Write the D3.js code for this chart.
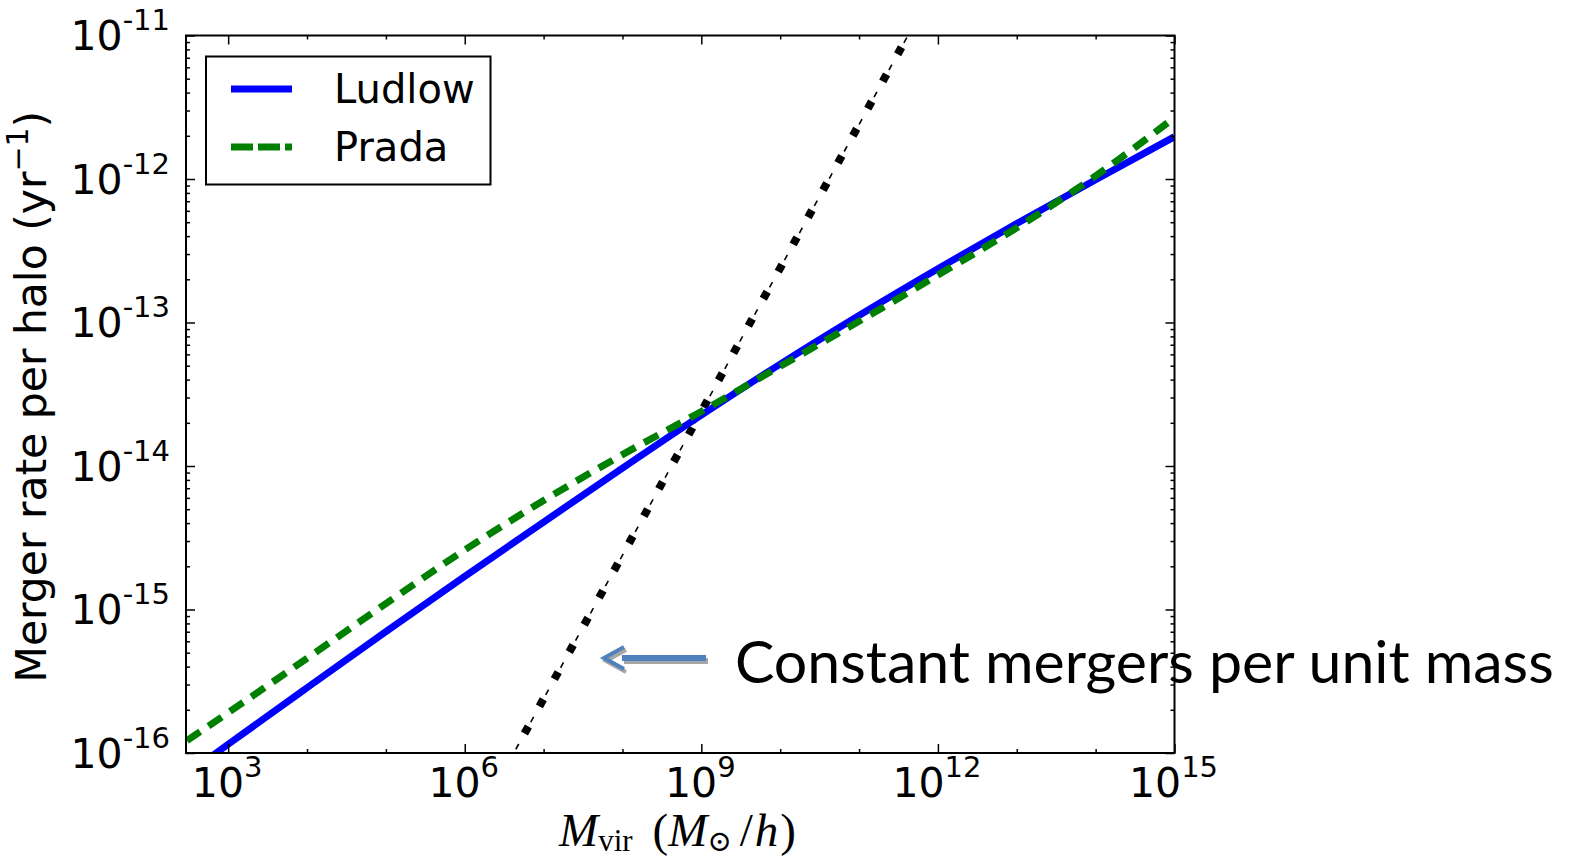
<!DOCTYPE html>
<html>
<head>
<meta charset="utf-8">
<script src="https://cdn.jsdelivr.net/npm/d3@7/dist/d3.min.js"></script>
<style>
  html, body { margin: 0; padding: 0; background: #fff; }
  svg { display: block; }
</style>
</head>
<body>
<div id="chart"></div>
<script>
// tick labels (exponents of ten)
const massLabelExponents = [3, 6, 9, 12, 15]
const rateLabelExponents = [-11, -12, -13, -14, -15, -16]

// Ludlow concentration model
const ludlowMass = [3e2, 1e3, 1e4, 1e5, 1e6, 1e7, 1e8, 1e9, 1e10, 1e11, 1e12, 1e13, 1e14, 1e15]
const ludlowRate = [7.1e-17, 1.15e-16, 2.85e-16, 7.0e-16, 1.7e-15, 4.07e-15, 9.66e-15, 2.26e-14, 5.13e-14, 1.12e-13, 2.37e-13, 4.9e-13, 9.89e-13, 1.97e-12]

// Prada concentration model
const pradaMass = [3e2, 1e3, 1e4, 1e5, 1e6, 1e7, 1e8, 1e9, 1e10, 1e11, 1e12, 1e13, 1e14, 1e15]
const pradaRate = [1.22e-16, 1.91e-16, 4.57e-16, 1.1e-15, 2.6e-15, 5.75e-15, 1.2e-14, 2.4e-14, 4.95e-14, 1.02e-13, 2.14e-13, 4.57e-13, 1.05e-12, 2.68e-12]

// constant mergers per unit mass
const constantMass = [3.6e6, 5.0e11]
const constantRate = [8.6e-17, 1.2e-11]

const legendLabels = ["Ludlow", "Prada"]
const annotationText = "Constant mergers per unit mass"

const width = 1575
const height = 859
const margin = {left: 186, right: 1174.5, top: 35.5, bottom: 753}

const svg = d3.select("#chart").append("svg")
  .attr("width", width)
  .attr("height", height)
  .attr("viewBox", `0 0 ${width} ${height}`)

const x = d3.scaleLog().domain([292, 1e15]).range([margin.left, margin.right])
const y = d3.scaleLog().domain([1e-16, 1e-11]).range([margin.bottom, margin.top])

svg.append("defs").append("clipPath").attr("id", "plot-clip")
  .append("rect")
  .attr("x", margin.left).attr("y", margin.top)
  .attr("width", margin.right - margin.left)
  .attr("height", margin.bottom - margin.top)

const line = d3.line()
  .x(d => x(d[0]))
  .y(d => y(d[1]))
  .curve(d3.curveMonotoneX)

const plot = svg.append("g").attr("clip-path", "url(#plot-clip)")

// black reference line: thin dashes with square dots between them
const constantPoints = d3.zip(constantMass, constantRate)
const constantPath = plot.append("path")
  .datum(constantPoints)
  .attr("fill", "none")
  .attr("stroke", "#000")
  .attr("stroke-width", 1.6)
  .attr("stroke-dasharray", "6,25")
  .attr("stroke-dashoffset", -15)
  .attr("d", line)
const pathNode = constantPath.node()
const pathLength = pathNode.getTotalLength()
const angle = Math.atan2(
  y(constantRate[1]) - y(constantRate[0]),
  x(constantMass[1]) - x(constantMass[0])
) * 180 / Math.PI
for (let s = 6; s < pathLength; s += 31) {
  const p = pathNode.getPointAtLength(s)
  plot.append("rect")
    .attr("x", -4).attr("y", -4)
    .attr("width", 8).attr("height", 8)
    .attr("fill", "#000")
    .attr("transform", `translate(${p.x},${p.y}) rotate(${angle})`)
}

plot.append("path")
  .datum(d3.zip(ludlowMass, ludlowRate))
  .attr("fill", "none")
  .attr("stroke", "#0000ff")
  .attr("stroke-width", 7)
  .attr("d", line)

plot.append("path")
  .datum(d3.zip(pradaMass, pradaRate))
  .attr("fill", "none")
  .attr("stroke", "#008000")
  .attr("stroke-width", 7)
  .attr("stroke-dasharray", "16,10")
  .attr("d", line)

// ticks, inward on all four sides
const majorX = massLabelExponents.map(e => Math.pow(10, e))
const minorX = d3.range(3, 16).filter(e => e % 3 !== 0).map(e => Math.pow(10, e))
const majorY = rateLabelExponents.map(e => Math.pow(10, e))
const minorY = []
d3.range(-16, -11).forEach(e => d3.range(2, 10).forEach(m => minorY.push(m * Math.pow(10, e))))

const axisStyle = group => {
  group.select(".domain").remove()
  group.selectAll("line").attr("stroke", "#000").attr("stroke-width", 1.5)
}

svg.append("g").attr("transform", `translate(0,${margin.bottom})`)
  .call(d3.axisBottom(x).tickValues(majorX).tickSize(-9).tickFormat("")).call(axisStyle)
svg.append("g").attr("transform", `translate(0,${margin.bottom})`)
  .call(d3.axisBottom(x).tickValues(minorX).tickSize(-4).tickFormat("")).call(axisStyle)
svg.append("g").attr("transform", `translate(0,${margin.top})`)
  .call(d3.axisTop(x).tickValues(majorX).tickSize(-9).tickFormat("")).call(axisStyle)
svg.append("g").attr("transform", `translate(0,${margin.top})`)
  .call(d3.axisTop(x).tickValues(minorX).tickSize(-4).tickFormat("")).call(axisStyle)
svg.append("g").attr("transform", `translate(${margin.left},0)`)
  .call(d3.axisLeft(y).tickValues(majorY).tickSize(-9).tickFormat("")).call(axisStyle)
svg.append("g").attr("transform", `translate(${margin.left},0)`)
  .call(d3.axisLeft(y).tickValues(minorY).tickSize(-4).tickFormat("")).call(axisStyle)
svg.append("g").attr("transform", `translate(${margin.right},0)`)
  .call(d3.axisRight(y).tickValues(majorY).tickSize(-9).tickFormat("")).call(axisStyle)
svg.append("g").attr("transform", `translate(${margin.right},0)`)
  .call(d3.axisRight(y).tickValues(minorY).tickSize(-4).tickFormat("")).call(axisStyle)

svg.append("rect")
  .attr("x", margin.left).attr("y", margin.top)
  .attr("width", margin.right - margin.left)
  .attr("height", margin.bottom - margin.top)
  .attr("fill", "none")
  .attr("stroke", "#000")
  .attr("stroke-width", 2)

// tick labels
const tickFont = "'DejaVu Sans', sans-serif"
massLabelExponents.forEach(e => {
  const t = svg.append("text")
    .attr("x", x(Math.pow(10, e)) - 1)
    .attr("y", margin.bottom + 44)
    .attr("text-anchor", "middle")
    .attr("font-family", tickFont)
    .attr("font-size", 41)
  t.append("tspan").text("10")
  t.append("tspan").attr("dy", -20).attr("font-size", 29).text(e)
})
rateLabelExponents.forEach(e => {
  const t = svg.append("text")
    .attr("x", 170)
    .attr("y", y(Math.pow(10, e)) + 14.5)
    .attr("text-anchor", "end")
    .attr("font-family", tickFont)
    .attr("font-size", 41)
  t.append("tspan").text("10")
  t.append("tspan").attr("dy", -20).attr("font-size", 29).text(e)
})

// axis titles
const yTitle = svg.append("text")
  .attr("transform", `translate(46,${(115.5 + 678) / 2}) rotate(-90)`)
  .attr("text-anchor", "middle")
  .attr("font-family", tickFont)
  .attr("font-size", 42.5)
yTitle.append("tspan").text("Merger rate per halo (yr")
yTitle.append("tspan").attr("dy", -18).attr("font-size", 30).text("\u22121")
yTitle.append("tspan").attr("dy", 18).text(")")

const xTitle = svg.append("text")
  .attr("x", 559)
  .attr("y", 846)
  .attr("font-family", "'Liberation Serif', 'DejaVu Serif', serif")
  .attr("font-size", 47)
xTitle.append("tspan").attr("font-style", "italic").text("M")
xTitle.append("tspan").attr("dy", 5).attr("font-size", 31).text("vir")
xTitle.append("tspan").attr("dy", -5).attr("dx", 20).text("(")
xTitle.append("tspan").attr("font-style", "italic").text("M")
xTitle.append("tspan").attr("dy", 5).attr("font-size", 29).text("\u2299")
xTitle.append("tspan").attr("dy", -5).attr("dx", 8).text("/")
xTitle.append("tspan").attr("font-style", "italic").attr("dx", 2).text("h")
xTitle.append("tspan").attr("dx", 2).text(")")

// legend
const legend = svg.append("g")
legend.append("rect")
  .attr("x", 206).attr("y", 56.5)
  .attr("width", 284.5).attr("height", 128)
  .attr("fill", "#fff")
  .attr("stroke", "#000")
  .attr("stroke-width", 2)
const legendStyles = [
  {color: "#0000ff", dash: null, y: 89},
  {color: "#008000", dash: "22,5", y: 147}
]
legendLabels.forEach((label, i) => {
  const s = legendStyles[i]
  legend.append("line")
    .attr("x1", 231).attr("x2", 292)
    .attr("y1", s.y).attr("y2", s.y)
    .attr("stroke", s.color)
    .attr("stroke-width", 7)
    .attr("stroke-dasharray", s.dash)
  legend.append("text")
    .attr("x", 334)
    .attr("y", s.y + 14)
    .attr("font-family", tickFont)
    .attr("font-size", 40)
    .text(label)
})

// slide annotation with arrow
const arrowY = 658
const arrow = svg.append("g")
const shadow = arrow.append("g").attr("transform", "translate(2,3)").attr("stroke", "#a6a6a6").attr("fill", "none")
const blue = arrow.append("g").attr("stroke", "#4f81bd").attr("fill", "none")
;[shadow, blue].forEach(g => {
  g.append("polyline")
    .attr("points", `624,${arrowY - 11} 604,${arrowY} 624,${arrowY + 11}`)
    .attr("stroke-width", 4)
  g.append("line")
    .attr("x1", 622).attr("x2", 706)
    .attr("y1", arrowY).attr("y2", arrowY)
    .attr("stroke-width", 6)
})

const note = svg.append("text")
  .attr("x", 735)
  .attr("y", 683)
  .attr("font-family", "Lato, 'Open Sans', sans-serif")
  .attr("font-size", 56)
  .attr("fill", "#000")
  .text(annotationText)
const noteWidth = note.node().getComputedTextLength()
note.attr("font-size", 56 * 819 / noteWidth)
</script>
</body>
</html>
